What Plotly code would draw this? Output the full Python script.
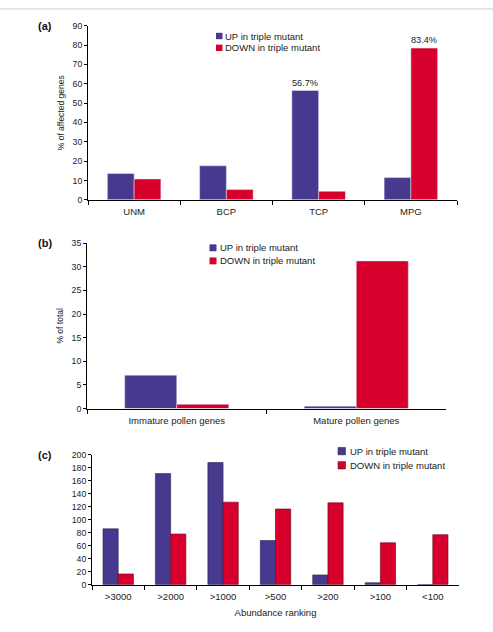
import plotly.graph_objects as go

W, H = 493, 632

series_names = ["UP in triple mutant", "DOWN in triple mutant"]
series_colors = ["#46398E", "#D7002C"]

a_categories = ["UNM", "BCP", "TCP", "MPG"]
a_up = [13.6, 17.6, 56.5, 11.5]
a_down = [10.8, 5.3, 4.4, 78.4]
a_up_labels = ["", "", "56.7%", ""]
a_down_labels = ["", "", "", "83.4%"]

b_categories = ["Immature pollen genes", "Mature pollen genes"]
b_up = [7.05, 0.5]
b_down = [0.9, 31.25]

c_categories = [">3000", ">2000", ">1000", ">500", ">200", ">100", "<100"]
c_up = [86, 171, 188, 68, 15, 3, 0]
c_down = [16.5, 78, 127, 116.5, 126, 64.5, 77]

FONT = "Liberation Sans, Arial, sans-serif"


def px_x(x):
    return x / W


def px_y(y):
    return 1 - y / H


fig = go.Figure()

# Panel (a)
fig.add_bar(x=a_categories, y=a_up, name=series_names[0], marker_color=series_colors[0],
            text=a_up_labels, textposition="outside", textfont=dict(size=9.5, color="#222"),
            cliponaxis=False, xaxis="x", yaxis="y", showlegend=False)
fig.add_bar(x=a_categories, y=a_down, name=series_names[1], marker_color=series_colors[1],
            text=a_down_labels, textposition="outside", textfont=dict(size=9.5, color="#222"),
            cliponaxis=False, xaxis="x", yaxis="y", showlegend=False)

# Panel (b)
fig.add_bar(x=b_categories, y=b_up, name=series_names[0], marker_color=series_colors[0],
            xaxis="x2", yaxis="y2", showlegend=False)
fig.add_bar(x=b_categories, y=b_down, name=series_names[1], marker_color=series_colors[1],
            xaxis="x2", yaxis="y2", showlegend=False)

# Panel (c)
fig.add_bar(x=c_categories, y=c_up, name=series_names[0], marker_color=series_colors[0],
            marker_line=dict(color="#2a2050", width=0.6),
            xaxis="x3", yaxis="y3", showlegend=False)
fig.add_bar(x=c_categories, y=c_down, name=series_names[1], marker_color=series_colors[1],
            marker_line=dict(color="#6a0015", width=0.6),
            xaxis="x3", yaxis="y3", showlegend=False)

xbase = dict(type="category", tickson="boundaries", ticks="outside", ticklen=4,
             tickcolor="#000", showline=True, linecolor="#000", linewidth=1,
             showgrid=False, zeroline=False, tickfont=dict(size=9.5, color="#222"),
             ticklabelstandoff=3, fixedrange=True)
ybase = dict(ticks="outside", ticklen=3, tickcolor="#000", showline=True,
             linecolor="#000", linewidth=1, showgrid=False, zeroline=False,
             tickfont=dict(size=8.7, color="#222"), fixedrange=True)

fig.update_layout(
    width=W, height=H,
    margin=dict(l=0, r=0, t=0, b=0),
    paper_bgcolor="white", plot_bgcolor="white",
    font=dict(family=FONT, color="#222"),
    barmode="group", bargap=0.42, bargroupgap=0,
    showlegend=False,
    xaxis=dict(xbase, domain=[px_x(88), px_x(457)], anchor="y"),
    yaxis=dict(ybase, domain=[px_y(198), px_y(21)], anchor="x", range=[0, 90], dtick=10,
               title=dict(text="% of affected genes", font=dict(size=8.5), standoff=6)),
    xaxis2=dict(xbase, domain=[px_x(87), px_x(446)], anchor="y2"),
    yaxis2=dict(ybase, domain=[px_y(410), px_y(242)], anchor="x2", range=[0, 35], dtick=5,
                title=dict(text="% of total", font=dict(size=8.5), standoff=6)),
    xaxis3=dict(xbase, domain=[px_x(92), px_x(459)], anchor="y3",
                title=dict(text="Abundance ranking", font=dict(size=9.5), standoff=8)),
    yaxis3=dict(ybase, domain=[px_y(589), px_y(457)], anchor="x3", range=[0, 200], dtick=20),
)

shapes = [dict(type="line", xref="paper", yref="paper", x0=0, x1=1,
               y0=px_y(4), y1=px_y(4), line=dict(color="#cccccc", width=1))]
annotations = []

# panel letters
for letter, ycen in [("(a)", 21), ("(b)", 242), ("(c)", 457)]:
    annotations.append(dict(text="<b>" + letter + "</b>", xref="paper", yref="paper",
                            x=px_x(45), y=px_y(ycen), xanchor="center", yanchor="middle",
                            showarrow=False, font=dict(size=11, color="#111")))


def add_legend(sq_x0, sq_size, text_x, ycenters, outline):
    for name, color, yc in zip(series_names, series_colors, ycenters):
        shapes.append(dict(type="rect", xref="paper", yref="paper",
                           x0=px_x(sq_x0), x1=px_x(sq_x0 + sq_size),
                           y0=px_y(yc + sq_size / 2), y1=px_y(yc - sq_size / 2),
                           fillcolor=color,
                           line=dict(color="#333" if outline else color, width=0.6 if outline else 0)))
        annotations.append(dict(text=name, xref="paper", yref="paper",
                                x=px_x(text_x), y=px_y(yc), xanchor="left", yanchor="middle",
                                showarrow=False, font=dict(size=9.5, color="#222")))


add_legend(216, 6.5, 222.5, [31.5, 43.5], False)
add_legend(209.5, 7, 217.5, [246.7, 260], False)
add_legend(338, 7.5, 347.5, [453.3, 467.7], True)

fig.update_layout(shapes=shapes, annotations=annotations)

fig.write_html("out.html")
